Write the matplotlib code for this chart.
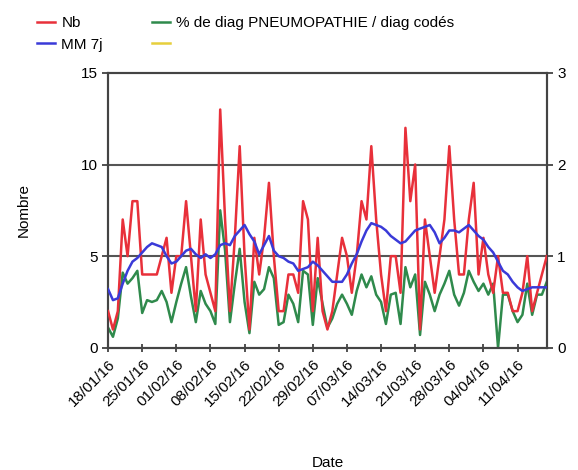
import numpy as np
import pandas as pd
import matplotlib
matplotlib.use("Agg")
import matplotlib.pyplot as plt
import matplotlib.dates as mdates

plt.rcParams['font.family'] = ['Liberation Sans', 'DejaVu Sans']

# daily values, 18/01/16 -> 17/04/16
dates = pd.date_range("2016-01-18", periods=91, freq="D")

nb = [2, 1, 2, 7, 5, 8, 8, 4, 4, 4, 4, 5, 6, 3, 5, 5, 8, 5, 2, 7,
      4, 3, 2, 13, 7, 2, 6, 11, 5, 1, 6, 4, 6, 9, 5, 2, 2, 4, 4, 3,
      8, 7, 2, 6, 2, 1, 2, 4, 6, 5, 3, 5, 8, 7, 11, 7, 4, 2, 5, 5,
      3, 12, 8, 10, 1, 7, 5, 3, 5, 7, 11, 7, 4, 4, 7, 9, 4, 6, 4, 3,
      5, 3, 3, 2, 2, 3, 5, 2, 3, 4, 5]

mm7 = [3.2, 2.6, 2.7, 3.5, 4.2, 4.7, 4.9, 5.2, 5.5, 5.7, 5.6, 5.5, 5.0, 4.6, 4.7, 5.0, 5.3, 5.4, 5.1, 4.9,
       5.1, 4.9, 5.1, 5.6, 5.7, 5.6, 6.1, 6.4, 6.7, 6.2, 5.8, 5.1, 5.6, 6.1, 5.3, 5.0, 4.9, 4.7, 4.6, 4.2,
       4.3, 4.4, 4.7, 4.5, 4.2, 3.9, 3.6, 3.6, 3.6, 4.0, 4.6, 5.1, 5.8, 6.4, 6.8, 6.7, 6.6, 6.4, 6.1, 5.9,
       5.7, 5.8, 6.1, 6.4, 6.5, 6.6, 6.7, 6.3, 5.7, 6.0, 6.4, 6.4, 6.3, 6.5, 6.7, 6.4, 6.1, 5.9, 5.5, 5.2,
       4.7, 4.2, 4.0, 3.6, 3.3, 3.1, 3.2, 3.3, 3.3, 3.3, 3.3]

# % diag pneumopathie (right axis, 0-3)
pct = [0.22, 0.12, 0.32, 0.82, 0.70, 0.76, 0.84, 0.38, 0.52, 0.50, 0.52, 0.62, 0.50, 0.28, 0.50, 0.70,
       0.88, 0.56, 0.28, 0.62, 0.48, 0.40, 0.26, 1.50, 1.06, 0.28, 0.70, 1.08, 0.50, 0.16, 0.72, 0.58,
       0.64, 0.88, 0.76, 0.25, 0.28, 0.58, 0.48, 0.28, 0.84, 0.80, 0.25, 0.76, 0.48, 0.22, 0.32, 0.48,
       0.58, 0.48, 0.36, 0.62, 0.80, 0.66, 0.78, 0.58, 0.50, 0.26, 0.58, 0.60, 0.26, 0.88, 0.66, 0.80,
       0.14, 0.72, 0.58, 0.40, 0.58, 0.70, 0.84, 0.58, 0.46, 0.60, 0.84, 0.72, 0.62, 0.70, 0.58, 0.70,
       0.00, 0.58, 0.58, 0.40, 0.28, 0.36, 0.70, 0.36, 0.58, 0.58, 0.72]

red = "#e8303a"
blue = "#3a3ad8"
green = "#2f8a4c"
yellow = "#e6cf3c"

fig = plt.figure(figsize=(5.78, 4.70), dpi=100)
ax = fig.add_axes([0.187, 0.26, 0.759, 0.585])
ax2 = ax.twinx()

ax.axhline(5, color="#555555", lw=1.5, zorder=0)
ax.axhline(10, color="#555555", lw=1.5, zorder=0)

l1, = ax.plot(dates, nb, color=red, lw=1.8, label="Nb", zorder=3)
l2, = ax.plot(dates, mm7, color=blue, lw=1.8, label="MM 7j", zorder=4)
l3, = ax2.plot(dates, pct, color=green, lw=1.8, label="% de diag PNEUMOPATHIE / diag codés")
l4, = ax2.plot([], [], color=yellow, lw=1.8, label=" ")
ax.set_zorder(ax2.get_zorder() + 1)
ax.patch.set_visible(False)

ax.set_ylim(0, 15)
ax.set_yticks([0, 5, 10, 15])
ax2.set_ylim(0, 3)
ax2.set_yticks([0, 1, 2, 3])
ax.set_xlim(dates[0], dates[-1])
ax.set_xticks(dates[:-1:7])
ax.xaxis.set_major_formatter(mdates.DateFormatter("%d/%m/%y"))
for lab in ax.get_xticklabels():
    lab.set_rotation(45)
    lab.set_ha("right")
    lab.set_rotation_mode("anchor")

for a in (ax, ax2):
    a.tick_params(labelsize=11, length=4, width=1.2, color="#333333")
    for s in a.spines.values():
        s.set_color("#444444")
        s.set_linewidth(1.5)
ax.tick_params(axis="x", direction="inout", length=6)

ax.set_xlabel("Date", fontsize=11, labelpad=34)
ax.set_ylabel("Nombre", fontsize=11, labelpad=36)

fig.legend(handles=[l1, l2, l3, l4], loc="upper left", bbox_to_anchor=(0.04, 0.995),
           ncol=2, frameon=False, fontsize=11, handlelength=1.2, columnspacing=3.2,
           labelspacing=0.5, handletextpad=0.4)

fig.savefig("out.png", dpi=100)
